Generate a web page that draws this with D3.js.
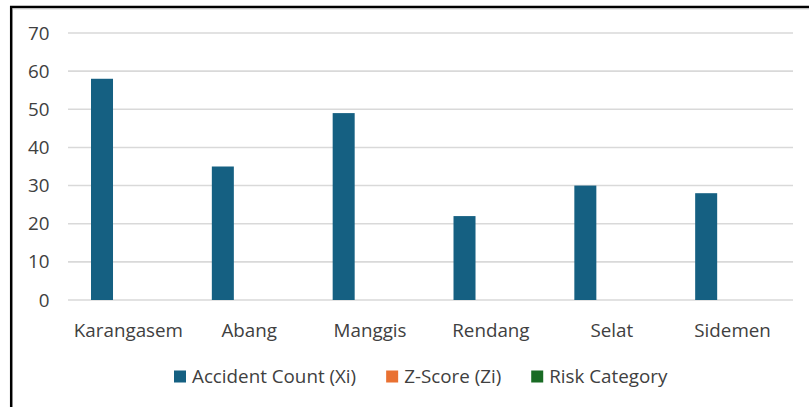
<!DOCTYPE html>
<html>
<head>
<meta charset="utf-8">
<script src="https://cdn.jsdelivr.net/npm/d3@7"></script>
<style>
  html, body { margin: 0; padding: 0; background: #fff; }
  svg { display: block; }
  text { font-family: "Open Sans", "Noto Sans", sans-serif; fill: #404040; }
</style>
</head>
<body>
<svg id="chart" width="809" height="407"></svg>
<script>
const categories = ["Karangasem", "Abang", "Manggis", "Rendang", "Selat", "Sidemen"];
const seriesNames = ["Accident Count (Xi)", "Z-Score (Zi)", "Risk Category"];
const accidentCount = [58, 35, 49, 22, 30, 28];
const zScore = [null, null, null, null, null, null];
const riskCategory = [null, null, null, null, null, null];
const yTicks = [0, 10, 20, 30, 40, 50, 60, 70];
const seriesColors = ["#156082", "#E97132", "#196B24"];

const seriesValues = [accidentCount, zScore, riskCategory];

const svg = d3.select("#chart");
const W = 809, H = 407;
const FS = 18.8;

// chart frame (left and top border)
svg.append("line").attr("x1", 11.2).attr("x2", 11.2).attr("y1", 6).attr("y2", H)
  .attr("stroke", "#000").attr("stroke-width", 2.5);
svg.append("line").attr("x1", 10).attr("x2", W).attr("y1", 7).attr("y2", 7)
  .attr("stroke", "#000").attr("stroke-width", 2.5);
svg.append("line").attr("x1", 12.5).attr("x2", W).attr("y1", 8.8).attr("y2", 8.8)
  .attr("stroke", "#bdbdbd").attr("stroke-width", 1);

const plot = { left: 68, right: 793, top: 33, bottom: 300 };

const x = d3.scaleBand().domain(categories).range([plot.left, plot.right]).padding(0);
const xSub = d3.scaleBand().domain(seriesNames).range([0, x.bandwidth()])
  .paddingInner(0.1667).paddingOuter(0.871);
const y = d3.scaleLinear().domain([0, 70]).range([plot.bottom, plot.top]);

// gridlines
svg.append("g").selectAll("line").data(yTicks).join("line")
  .attr("x1", plot.left).attr("x2", plot.right)
  .attr("y1", d => y(d)).attr("y2", d => y(d))
  .attr("stroke", "#d9d9d9").attr("stroke-width", 1.6);

// y axis labels
const yAxis = d3.axisLeft(y).tickValues(yTicks).tickSize(0).tickPadding(0);
const gy = svg.append("g").attr("transform", "translate(49.5,0)").call(yAxis);
gy.select(".domain").remove();
gy.selectAll("text").attr("font-size", FS).style("font-family", "'Open Sans', sans-serif").attr("fill", "#404040");

// bars
seriesNames.forEach((s, si) => {
  const vals = seriesValues[si];
  svg.append("g").selectAll("rect")
    .data(categories.map((c, i) => ({ c, v: vals[i] })).filter(d => d.v != null))
    .join("rect")
    .attr("x", d => x(d.c) + xSub(s))
    .attr("width", xSub.bandwidth())
    .attr("y", d => y(d.v))
    .attr("height", d => y(0) - y(d.v))
    .attr("fill", seriesColors[si]);
});

// x axis labels
const xAxis = d3.axisBottom(x).tickSize(0).tickPadding(0);
const gx = svg.append("g").attr("transform", "translate(0,336.5)").call(xAxis);
gx.select(".domain").remove();
gx.selectAll("text").attr("y", 0).attr("dy", 0)
  .attr("font-size", FS).style("font-family", "'Open Sans', sans-serif").attr("fill", "#404040");

// legend
const legend = svg.append("g");
let lx = 174;
seriesNames.forEach((s, si) => {
  legend.append("rect").attr("x", lx).attr("y", 370.5).attr("width", 12).attr("height", 12)
    .attr("fill", seriesColors[si]);
  const t = legend.append("text").attr("x", lx + 18).attr("y", 382.5)
    .attr("font-size", FS).text(s);
  lx += 18 + t.node().getComputedTextLength() + 30;
});
</script>
</body>
</html>
